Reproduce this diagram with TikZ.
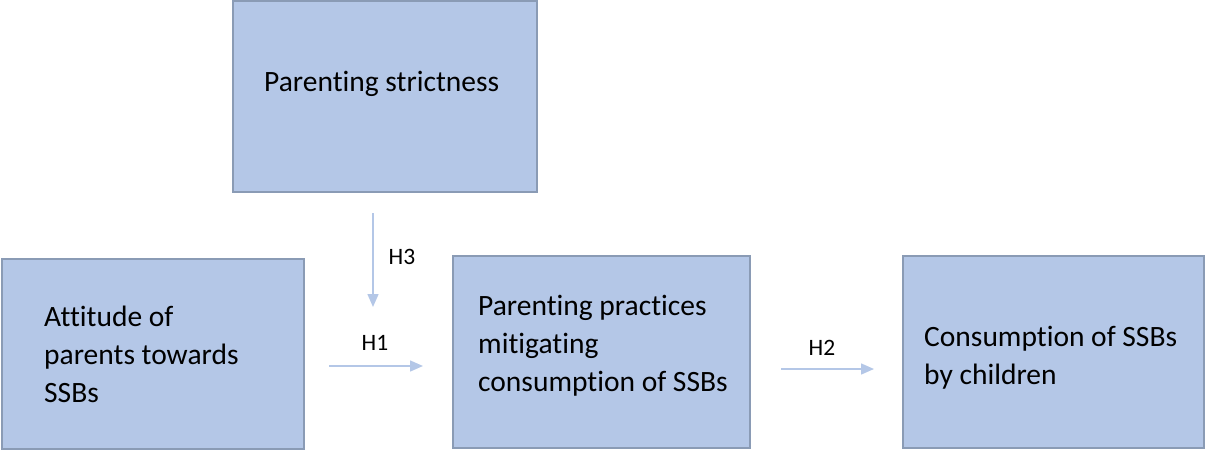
\documentclass[tikz,border=0pt]{standalone}
\usepackage{fontspec}
\setmainfont{Carlito}[Ligatures=NoCommon]
\usetikzlibrary{arrows.meta}
\definecolor{boxfill}{HTML}{B4C7E7}
\definecolor{boxline}{HTML}{8A9BB5}
\definecolor{arrowcol}{HTML}{B4C7E7}
\tikzset{
  box/.style={draw=boxline, line width=2pt, fill=boxfill, inner sep=0pt},
  boxtext/.style={anchor=north west, align=left, inner sep=0pt, font=\fontsize{29.5}{38}\selectfont},
  hlabel/.style={inner sep=0pt, font=\fontsize{23.5}{28}\selectfont},
  link/.style={draw=arrowcol, line width=1.5pt, -{Triangle[width=11pt,length=13pt]}}
}
\begin{document}
\begin{tikzpicture}[x=1pt,y=-1pt]
\useasboundingbox (0,0) rectangle (1205,450);
% boxes
\node[box, minimum width=304pt, minimum height=191pt] (strict) at (385,96.5) {};
\node[box, minimum width=302pt, minimum height=190pt] (att) at (153,354) {};
\node[box, minimum width=297pt, minimum height=192pt] (prac) at (601.5,352) {};
\node[box, minimum width=301pt, minimum height=192pt] (cons) at (1053.5,352) {};
% texts
\node[boxtext] (t1) at (264,71) {Parenting strictness};
\node[boxtext] (t2) at (44,306) {Attitude of\\parents towards\\SSBs};
\node[boxtext] (t3) at (478,295) {Parenting practices\\mitigating\\consumption of SSBs};
\node[boxtext] (t4) at (924,326) {Consumption of SSBs\\by children};
% connectors
\coordinate (h3s) at (373,213);
\coordinate (h3e) at (373,307);
\coordinate (h1s) at (329,366);
\coordinate (h1e) at (423,366);
\coordinate (h2s) at (781,369);
\coordinate (h2e) at (874,369);
\draw[link] (h3s) -- (h3e);
\draw[link] (h1s) -- (h1e);
\draw[link] (h2s) -- (h2e);
\node[hlabel] (l3) at (402,257) {H3};
\node[hlabel] (l1) at (375,343) {H1};
\node[hlabel] (l2) at (822,348) {H2};
\end{tikzpicture}
\end{document}
